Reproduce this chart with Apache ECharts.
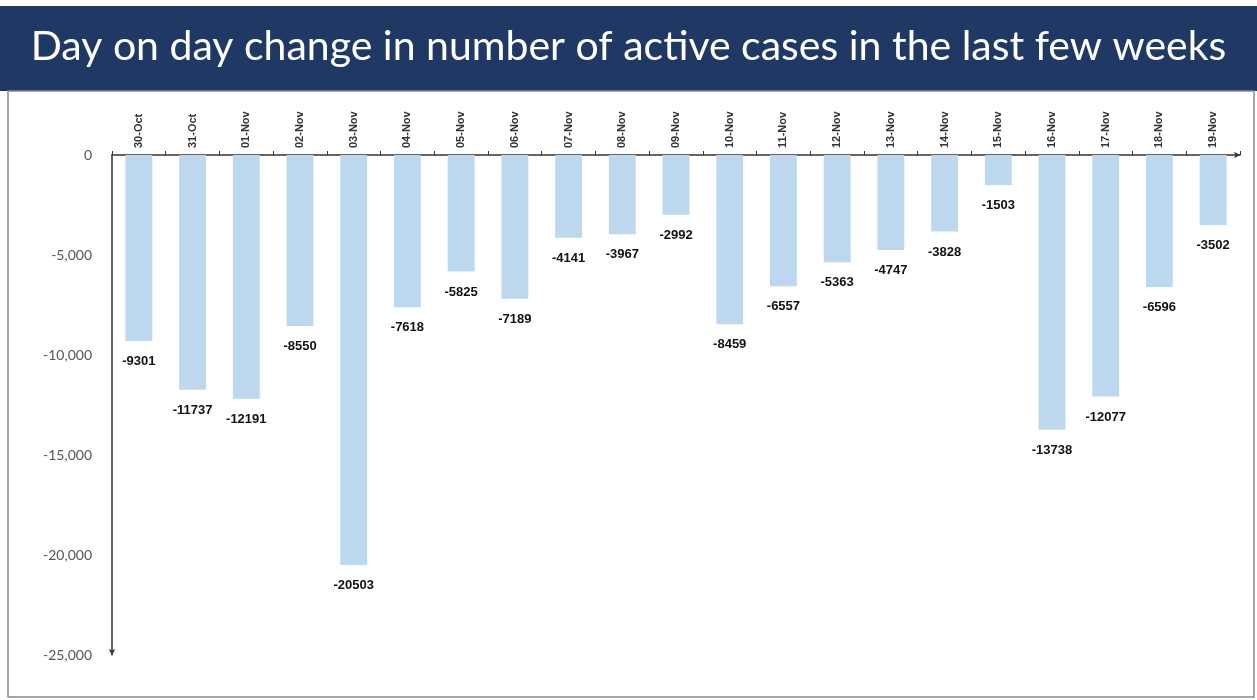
<!DOCTYPE html>
<html>
<head>
<meta charset="utf-8">
<script src="https://cdn.jsdelivr.net/npm/echarts@6/dist/echarts.min.js"></script>
<style>
  html, body { margin: 0; padding: 0; background: #fff; }
  #chart { width: 1257px; height: 700px; }
</style>
</head>
<body>
<div id="chart"></div>
<script>
// Dates on the category axis
const dates = ['30-Oct', '31-Oct', '01-Nov', '02-Nov', '03-Nov', '04-Nov', '05-Nov',
  '06-Nov', '07-Nov', '08-Nov', '09-Nov', '10-Nov', '11-Nov', '12-Nov', '13-Nov',
  '14-Nov', '15-Nov', '16-Nov', '17-Nov', '18-Nov', '19-Nov'];

// Day on day change in active cases
const changes = [-9301, -11737, -12191, -8550, -20503, -7618, -5825,
  -7189, -4141, -3967, -2992, -8459, -6557, -5363, -4747,
  -3828, -1503, -13738, -12077, -6596, -3502];

const chart = echarts.init(document.getElementById('chart'));

chart.setOption({
  animation: false,
  title: {
    text: 'Day on day change in number of active cases in the last few weeks',
    left: 'center',
    top: 21,
    textStyle: {
      color: '#fff',
      fontSize: 41,
      fontWeight: 'normal',
      fontFamily: 'Lato'
    }
  },
  // header band and frame
  graphic: [
    {
      type: 'rect',
      z: -1,
      shape: { x: 0, y: 6, width: 1257, height: 85 },
      style: { fill: '#1f3864' }
    },
    {
      type: 'rect',
      z: -1,
      shape: { x: 8, y: 91, width: 1246, height: 606 },
      style: { fill: 'none', stroke: '#8a8a8a', lineWidth: 1.5 }
    }
  ],
  grid: {
    left: 112,
    right: 17,
    top: 155,
    bottom: 45
  },
  xAxis: {
    type: 'category',
    data: dates,
    position: 'top',
    axisLine: {
      onZero: true,
      lineStyle: { color: '#333', width: 1.5 },
      symbol: ['none', 'arrow'],
      symbolSize: [5, 6]
    },
    axisTick: {
      show: true,
      length: 4,
      lineStyle: { color: '#333' }
    },
    axisLabel: {
      rotate: 90,
      interval: 0,
      fontSize: 11,
      fontWeight: 'bold',
      color: '#333',
      margin: 7,
      fontFamily: 'Liberation Sans'
    }
  },
  yAxis: {
    type: 'value',
    min: -25000,
    max: 0,
    interval: 5000,
    splitLine: { show: false },
    axisLine: {
      show: true,
      lineStyle: { color: '#333', width: 1.5 },
      symbol: ['arrow', 'none'],
      symbolSize: [5, 6]
    },
    axisTick: { show: false },
    axisLabel: {
      fontSize: 14,
      color: '#555',
      margin: 20,
      fontFamily: 'Lato',
      formatter: v => v.toLocaleString('en-US')
    }
  },
  series: [
    {
      name: 'Change',
      type: 'bar',
      data: changes,
      barWidth: '50%',
      itemStyle: { color: '#bdd7ee' },
      label: {
        show: true,
        position: 'bottom',
        distance: 14,
        fontSize: 13,
        fontWeight: 'bold',
        color: '#111',
        fontFamily: 'Liberation Sans'
      }
    }
  ]
});
</script>
</body>
</html>
